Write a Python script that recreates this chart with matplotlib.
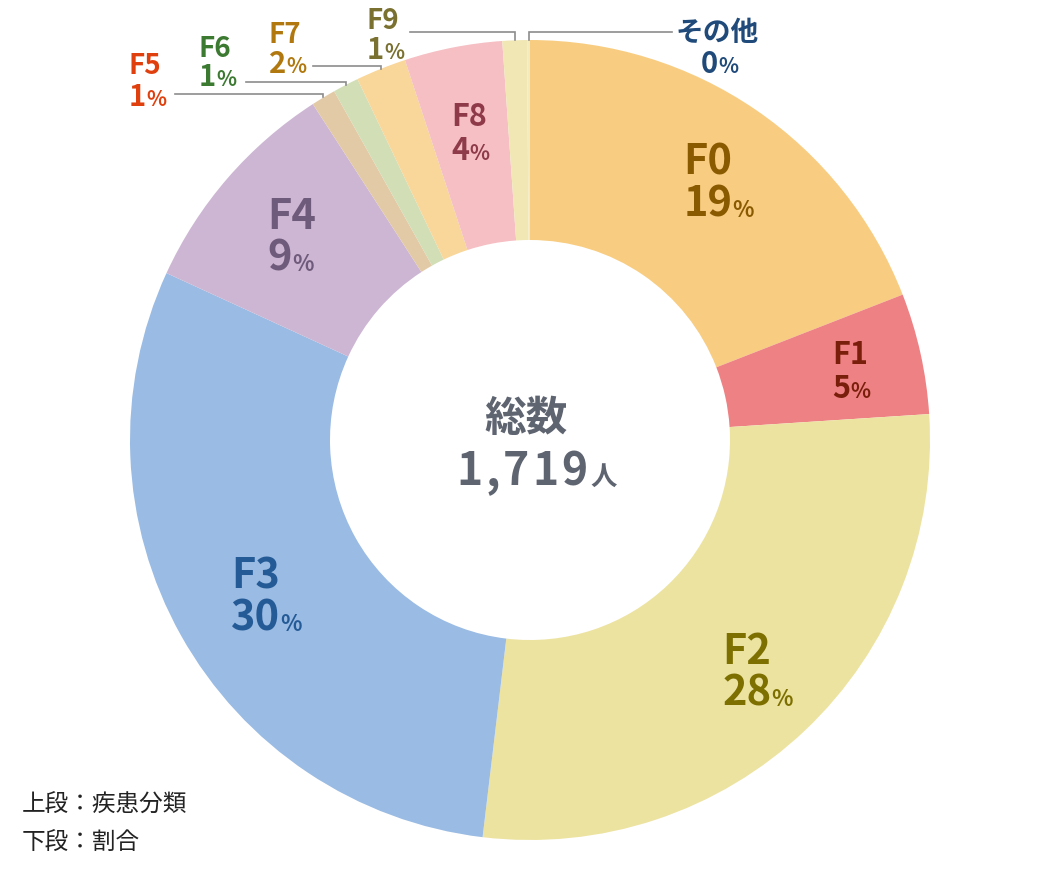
import numpy as np
import matplotlib
matplotlib.use('Agg')
import matplotlib.pyplot as plt

plt.rcParams['font.family'] = ['Noto Sans CJK JP', 'DejaVu Sans']

# data: patients per disease class (total 1,719)
categories = ['F0', 'F1', 'F2', 'F3', 'F4', 'F5', 'F6', 'F7', 'F8', 'F9', 'その他']
counts = [328, 84, 480, 515, 155, 17, 18, 35, 68, 17, 2]
total_label = '1,719'

wedge_colors = ['#F8CD82', '#EE8183', '#EDE3A1', '#9ABBE3', '#CDB6D3', '#E3CAA6',
                '#D2DEB6', '#F9D699', '#F5BFC3', '#F0E7B5', '#F3EBC0']
text_colors = ['#8A5A00', '#7A1E0C', '#7D7000', '#245A96', '#6E5A7A', '#E0400E',
               '#3C7A32', '#B0780E', '#8E3A48', '#7A7030', '#1F4A7A']

# layout (pixel units, y measured from the top)
W, H = 1060, 880
CX, CY = 530, 440
R_OUT, RING = 400, 200
big_labels = ['F0', 'F2', 'F3', 'F4']
small_labels = ['F1', 'F8']
# outside labels: text x, name baseline, number baseline, leader start x, leader y
outer_layout = {
    'F5': (145, 74, 106, 175, 94),
    'F6': (215, 57, 86, 246, 82),
    'F7': (285, 43, 73, 313, 66),
    'F9': (383, 29, 59, 410, 32),
    'その他': (717, 41, 73, 672, 32),
}

def py(y):  # top-based pixel -> data y
    return H - y

fig = plt.figure(figsize=(W / 100, H / 100), dpi=100)
ax = fig.add_axes([0, 0, 1, 1])
wedges, _ = ax.pie(counts, colors=wedge_colors, startangle=90, counterclock=False,
                   center=(CX, CY), radius=R_OUT,
                   wedgeprops=dict(width=RING, edgecolor='none', linewidth=0))
ax.set_xlim(0, W)
ax.set_ylim(0, H)
ax.set_aspect('equal')
ax.axis('off')

renderer = fig.canvas.get_renderer()
total = sum(counts)

def pct_label(x, y, value, size, pct_size, color, ha='left'):
    t = ax.text(x, y, str(value), fontsize=size, fontweight='bold', color=color,
                ha=ha, va='baseline')
    bb = t.get_window_extent(renderer)
    ax.text(bb.x1, y, '%', fontsize=pct_size, fontweight='bold', color=color,
            ha='left', va='baseline')

for i, (name, w) in enumerate(zip(categories, wedges)):
    pct = int(round(counts[i] / total * 100))
    mid = np.deg2rad((w.theta1 + w.theta2) / 2)
    col = text_colors[i]
    if name in big_labels or name in small_labels:
        big = name in big_labels
        r = 315 if name != 'F1' else 328
        lx = CX + r * np.cos(mid)
        ly = CY + r * np.sin(mid)
        size = 30 if big else 22
        t = ax.text(lx, ly + 5, name, fontsize=size, fontweight='bold', color=col,
                    ha='center', va='baseline')
        left = t.get_window_extent(renderer).x0
        pct_label(left, ly - (37 if big else 29), pct, size, 16 if big else 15, col)
    else:
        tx, nb, vb, lsx, lsy = outer_layout[name]
        t = ax.text(tx, py(nb), name, fontsize=20, fontweight='bold', color=col,
                    ha='center', va='baseline')
        if name == 'その他':
            pct_label(tx - 16, py(vb), pct, 21, 15, col)
        else:
            left = t.get_window_extent(renderer).x0
            pct_label(left, py(vb), pct, 21, 15, col)
        # leader line: horizontal, then down to the wedge edge
        ex = CX + R_OUT * np.cos(mid)
        ey = CY + R_OUT * np.sin(mid)
        ax.plot([lsx, ex, ex], [py(lsy), py(lsy), ey], color='#8C8C8C', lw=1.2,
                solid_joinstyle='miter')

# center text
center_col = '#5E6470'
ax.text(526, py(419), '総数', fontsize=30, fontweight='bold', color=center_col,
        ha='center', va='center')
# total count, drawn with a little letter spacing
x = 456
for ch in total_label:
    tc = ax.text(x, py(485), ch, fontsize=32, fontweight='bold', color=center_col,
                 ha='left', va='baseline')
    x = tc.get_window_extent(renderer).x1 + 3
ax.text(x, py(485), '人', fontsize=19, fontweight='bold', color=center_col,
        ha='left', va='baseline')

# notes
ax.text(22, py(812), '上段：疾患分類', fontsize=17, color='#222222', ha='left', va='baseline')
ax.text(22, py(850), '下段：割合', fontsize=17, color='#222222', ha='left', va='baseline')

fig.savefig('out.png', dpi=100)
